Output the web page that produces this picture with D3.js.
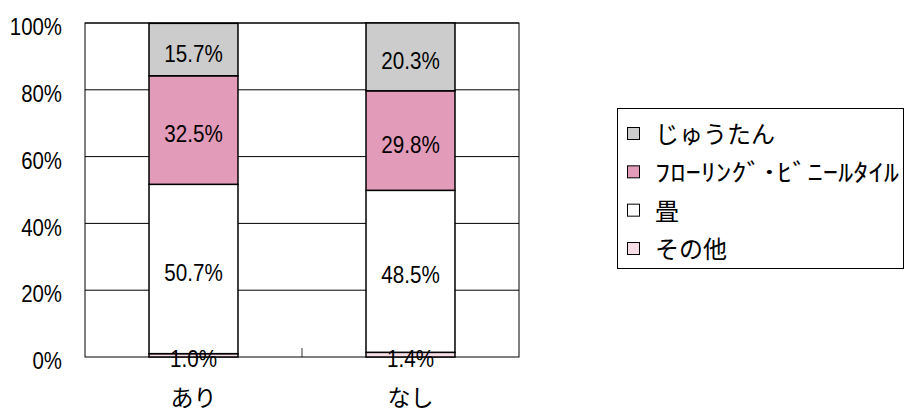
<!DOCTYPE html>
<html><head><meta charset="utf-8">
<script src="https://cdn.jsdelivr.net/npm/d3@7"></script>
<style>body{margin:0;background:#fff}svg{display:block}</style>
</head><body>
<svg id="c" width="904" height="414"></svg>
<script>
const categories = ["あり", "なし"];
const seriesNames = ["その他", "畳", "ﾌﾛｰﾘﾝｸﾞ･ﾋﾞﾆｰﾙﾀｲﾙ", "じゅうたん"];
const sonota = [1.0, 1.4];
const tatami = [50.7, 48.5];
const flooring = [32.5, 29.8];
const juutan = [15.7, 20.3];
const seriesColors = ["#f5dce5", "#ffffff", "#e29bb9", "#cccccc"];
const yTicks = [0, 20, 40, 60, 80, 100];
const legendOrder = ["じゅうたん", "ﾌﾛｰﾘﾝｸﾞ･ﾋﾞﾆｰﾙﾀｲﾙ", "畳", "その他"];

const seriesVals = [sonota, tatami, flooring, juutan];
const svg = d3.select("#c");
const jp = "'Noto Sans CJK JP', sans-serif";
const num = "'Liberation Sans', Arial, sans-serif";
const m = {l: 85, r: 519, t: 23, b: 357};
const x = d3.scaleBand().domain(categories).range([m.l, m.r]).paddingInner(0.59).paddingOuter(0.295);
const y = d3.scaleLinear().domain([0, 100]).range([m.b, m.t]);

// gridlines
svg.append("g").selectAll("line").data(yTicks.filter(d => d > 0)).join("line")
  .attr("x1", m.l).attr("x2", m.r).attr("y1", d => y(d)).attr("y2", d => y(d))
  .attr("stroke", "#000").attr("stroke-width", 1);
// plot border
svg.append("rect").attr("x", m.l).attr("y", m.t).attr("width", m.r - m.l).attr("height", m.b - m.t)
  .attr("fill", "none").attr("stroke", "#000").attr("stroke-width", 1);

// y axis labels
const yAxis = d3.axisLeft(y).tickValues(yTicks).tickFormat(d => d + "%").tickSize(0).tickPadding(0);
const ga = svg.append("g").attr("transform", `translate(${m.l},0)`).call(yAxis);
ga.select(".domain").remove();
ga.selectAll("text").attr("font-family", num).attr("font-size", 24).attr("fill", "#000")
  .attr("x", 0).attr("dy", "0.36em").attr("transform", "translate(-23,3) scale(0.85,1)");

// x axis
const xAxis = d3.axisBottom(x).tickSize(0).tickPadding(0);
const gx = svg.append("g").attr("transform", `translate(0,${m.b})`).call(xAxis);
gx.select(".domain").remove();
gx.selectAll("text").attr("font-family", jp).attr("font-size", 23).attr("fill", "#000")
  .attr("dy", 0).attr("y", 49);
// middle tick
const mid = (x(categories[0]) + x.bandwidth() + x(categories[1])) / 2;
svg.append("line").attr("x1", mid).attr("x2", mid).attr("y1", m.b).attr("y2", m.b - 9).attr("stroke", "#000").attr("stroke-width", 0.8);

// stacked bars
const stackData = categories.map((c, i) => {
  const o = {cat: c};
  seriesNames.forEach((s, j) => o[s] = seriesVals[j][i]);
  return o;
});
const stack = d3.stack().keys(seriesNames)(stackData);
stack.forEach((layer, j) => {
  svg.append("g").selectAll("rect").data(layer).join("rect")
    .attr("x", d => x(d.data.cat)).attr("width", x.bandwidth())
    .attr("y", d => y(d[1])).attr("height", d => y(d[0]) - y(d[1]))
    .attr("fill", seriesColors[j]).attr("stroke", "#000").attr("stroke-width", 1.5);
});
stack.forEach((layer, j) => {
  svg.append("g").selectAll("text").data(layer).join("text")
    .attr("transform", d => `translate(${x(d.data.cat) + x.bandwidth() / 2},${(y(d[0]) + y(d[1])) / 2 + 3.5}) scale(0.86,1)`)
    .attr("dy", "0.36em")
    .attr("text-anchor", "middle")
    .attr("font-family", num).attr("font-size", 24).attr("fill", "#000")
    .text(d => (d[1] - d[0]).toFixed(1) + "%");
});

// legend
const lg = svg.append("g");
lg.append("rect").attr("x", 617.5).attr("y", 108.5).attr("width", 286).attr("height", 160)
  .attr("fill", "#fff").attr("stroke", "#000").attr("stroke-width", 1);
const ly = d3.scalePoint().domain(legendOrder).range([134, 249]);
legendOrder.forEach(name => {
  const j = seriesNames.indexOf(name);
  lg.append("rect").attr("x", 627.5).attr("y", ly(name) - 6.5).attr("width", 12).attr("height", 12)
    .attr("fill", seriesColors[j]).attr("stroke", "#000").attr("stroke-width", 1);
  const t = lg.append("text").attr("x", 655).attr("y", ly(name)).attr("dy", "0.38em")
    .attr("font-family", jp).attr("font-size", 24).attr("fill", "#000").text(name);
  if (name.length > 6) {
    t.attr("font-size", 24).attr("textLength", 244).attr("lengthAdjust", "spacingAndGlyphs");
  }
});
</script>
</body></html>
